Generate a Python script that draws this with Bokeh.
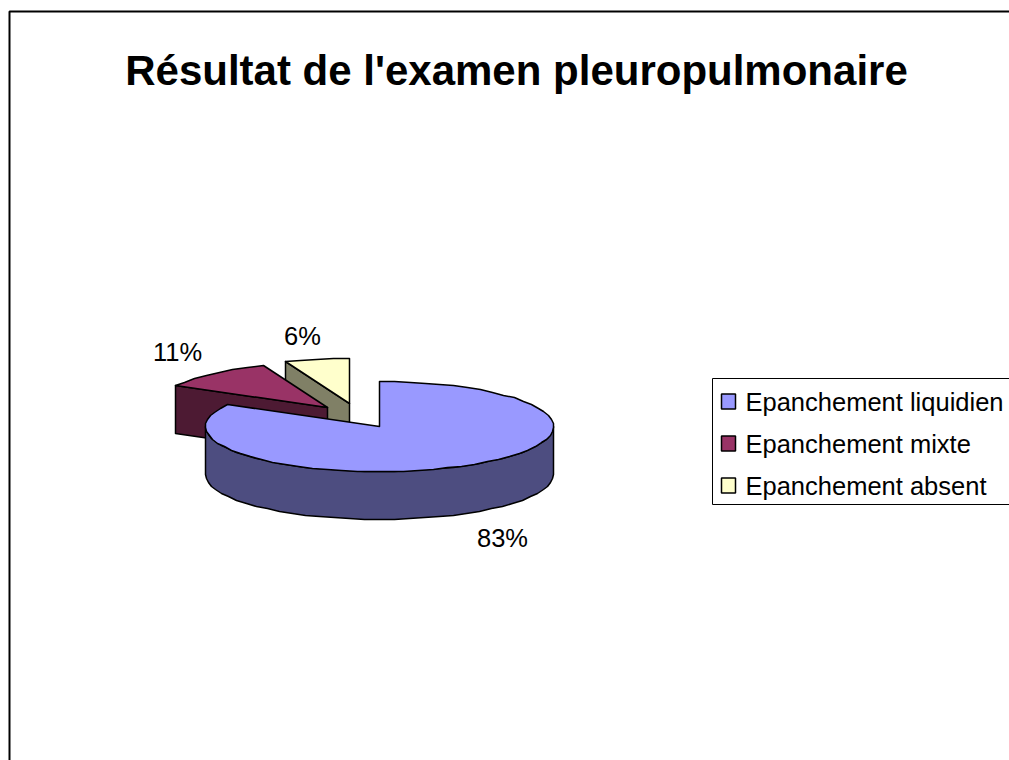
import numpy as np
from bokeh.plotting import figure
from bokeh.models import Range1d
from bokeh.core.properties import value
from bokeh.embed import file_html
from bokeh.resources import INLINE

title = "Résultat de l'examen pleuropulmonaire"
categories = ["Epanchement liquidien", "Epanchement mixte", "Epanchement absent"]
shares = [83, 11, 6]
top_colors = ["#9999FF", "#993366", "#FFFFCC"]
wall_colors = ["#4D4D80", "#4D1A33", "#808066"]

FONT = value("Liberation Sans")
RX, RY, DEPTH = 174, 45, 48
centers = [(379, 426), (327, 407), (349, 403)]
label_pos = [(502, 537), (177, 351), (302, 335)]

p = figure(width=1009, height=760, output_backend="svg", toolbar_location=None,
           x_range=Range1d(0, 1009), y_range=Range1d(760, 0),
           min_border=0, outline_line_color=None, background_fill_color="white")
p.axis.visible = False
p.grid.visible = False

# page frame
p.line([9, 9, 1009], [760, 11, 11], line_color="black", line_width=2)

p.text([516], [70], text=[title], text_font=FONT, text_font_style="bold",
       text_font_size="42px", text_align="center", text_baseline="middle", text_color="black")

edges = np.cumsum([0] + shares) / sum(shares) * 2 * np.pi

def rim(i, a, b, step=np.radians(5)):
    n = max(2, int(abs(b - a) / step) + 1)
    t = np.linspace(a, b, n)
    cx, cy = centers[i]
    return np.round(cx + RX * np.sin(t)), np.round(cy - RY * np.cos(t))

LINE = dict(line_color="black", line_width=1.5, line_join="round")

for i in [2, 1, 0]:
    cx, cy = centers[i]
    a, b = edges[i], edges[i + 1]
    if i == 0:
        # visible outer rim of the front half
        xr, yr = rim(i, np.pi / 2, 3 * np.pi / 2)
        wx = np.r_[xr, xr[::-1]]
        wy = np.r_[yr, yr[::-1] + DEPTH]
    else:
        # radial cut wall facing the viewer
        ex, ey = rim(i, a, a)[0][0], rim(i, a, a)[1][0]
        wx = np.array([ex, cx, cx, ex])
        wy = np.array([ey, cy, cy + DEPTH, ey + DEPTH])
    p.patch(wx, wy, fill_color=wall_colors[i], **LINE)
    xr, yr = rim(i, a, b)
    p.patch(np.r_[cx, xr], np.r_[cy, yr], fill_color=top_colors[i], **LINE)

for (x, y), s in zip(label_pos, shares):
    p.text([x], [y], text=[f"{s}%"], text_font=FONT, text_font_size="25.5px",
           text_align="center", text_baseline="middle", text_color="black")

# legend
p.line([1009, 712, 712, 1009], [378, 378, 504, 504], line_color="black", line_width=1)
for i, name in enumerate(categories):
    y = 401 + i * 42
    p.quad(left=[721], right=[735], top=[y - 7.5], bottom=[y + 7.5],
           fill_color=top_colors[i], line_color="black", line_width=1.5)
    p.text([745], [y], text=[name], text_font=FONT, text_font_size="25.5px",
           text_align="left", text_baseline="middle", text_color="black")

open("out.html", "w").write(file_html(p, INLINE))
